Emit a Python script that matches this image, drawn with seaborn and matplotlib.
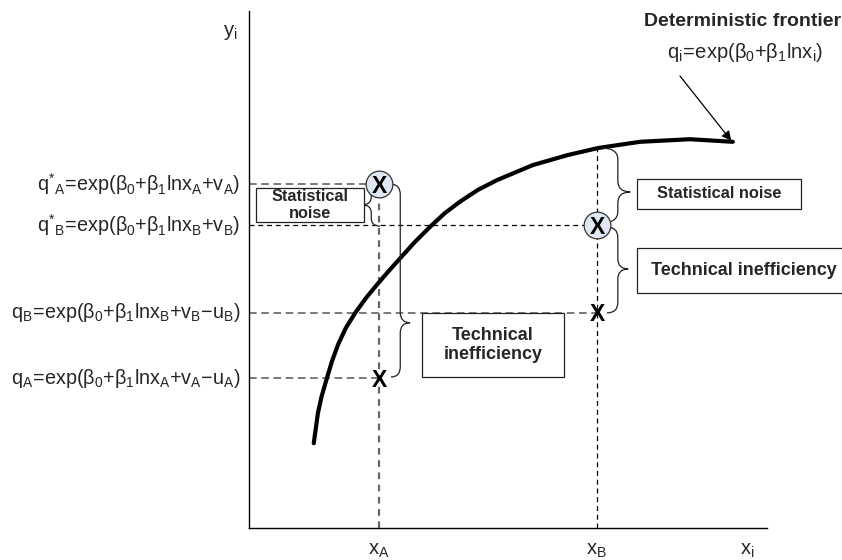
import numpy as np
import pandas as pd
import matplotlib
matplotlib.use("Agg")
import matplotlib.pyplot as plt
import seaborn as sns
from matplotlib.path import Path
from matplotlib.patches import PathPatch, Rectangle

# ---------------- data (arbitrary units, axes 0..10) ----------------
x_A = 2.51
x_B = 6.72
q_star_A = 6.65
q_star_B = 5.86
q_B = 4.16
q_A = 2.90

frontier_x = [1.25, 1.33, 1.40, 1.51, 1.60, 1.72, 1.87, 2.05, 2.26, 2.49, 2.68,
              2.92, 3.20, 3.49, 3.78, 4.07, 4.42, 4.79, 5.48, 6.14, 6.74, 7.55,
              8.51, 9.34]
frontier_y = [1.64, 2.22, 2.54, 2.92, 3.22, 3.55, 3.87, 4.16, 4.45, 4.73, 4.95,
              5.22, 5.53, 5.82, 6.09, 6.31, 6.54, 6.73, 7.02, 7.21, 7.35, 7.47,
              7.52, 7.47]

y_labels = [r"$\mathregular{q^{*}{}_{A}\!=\!exp(β_0{+}β_1lnx_A{+}v_A)}$",
            r"$\mathregular{q^{*}{}_{B}\!=\!exp(β_0{+}β_1lnx_B{+}v_B)}$",
            r"$\mathregular{q_B\!=\!exp(β_0{+}β_1lnx_B{+}v_B{-}u_B)}$",
            r"$\mathregular{q_A\!=\!exp(β_0{+}β_1lnx_A{+}v_A{-}u_A)}$"]
y_label_values = [q_star_A, q_star_B, q_B, q_A]
x_tick_labels = [r"$\mathregular{x_A}$", r"$\mathregular{x_B}$", r"$\mathregular{x_i}$"]

# ---------------- style ----------------
sns.set_theme(style="white")
plt.rcParams["font.family"] = ["Liberation Sans", "DejaVu Sans"]
plt.rcParams["mathtext.fontset"] = "custom"
plt.rcParams["mathtext.rm"] = "Liberation Sans"
plt.rcParams["mathtext.it"] = "Liberation Sans:italic"
plt.rcParams["mathtext.bf"] = "Liberation Sans:bold"

W, H = 842, 560
fig = plt.figure(figsize=(W / 100, H / 100), dpi=100)
fig.patch.set_facecolor("white")
ax = fig.add_axes([249 / W, 32 / H, 518 / W, 517 / H])
ax.set_xlim(0, 10)
ax.set_ylim(0, 10)
ax.set_xticks([])
ax.set_yticks([])
for s in ["top", "right"]:
    ax.spines[s].set_visible(False)
for s in ["left", "bottom"]:
    ax.spines[s].set_color("black")
    ax.spines[s].set_linewidth(1.0)
ax.set_facecolor("white")


def fx(px):
    return px / W


def fy(py):
    return 1 - py / H


dash_gray = dict(color="#555555", lw=1.1, ls=(0, (5, 3)), zorder=1)
dash_black = dict(color="black", lw=0.9, ls=(0, (4, 3)), zorder=1)

# guide lines
ax.plot([x_A, x_A], [0, q_star_A], color="#666666", lw=1.6, ls=(0, (3, 2.5)), zorder=1)
ax.plot([x_B, x_B], [0, frontier_y[20]], **dash_black)
ax.plot([0, x_A], [q_star_A, q_star_A], **dash_gray)
ax.plot([0, x_B], [q_star_B, q_star_B], **dash_black)
ax.plot([0, x_B], [q_B, q_B], **dash_gray)
ax.plot([0, x_A], [q_A, q_A], **dash_gray)

# frontier
df = pd.DataFrame({"x": frontier_x, "y": frontier_y})
sns.lineplot(data=df, x="x", y="y", ax=ax, color="black", lw=3.0, sort=False,
             estimator=None, zorder=3)
ax.lines[-1].set_solid_joinstyle("round")
ax.set_xlabel("")
ax.set_ylabel("")


# braces
def brace(x_end, x_spine, x_tip, y_top, y_bot, y_tip, r=0.18):
    verts = [(x_end, y_top), (x_spine, y_top), (x_spine, y_top - r),
             (x_spine, y_tip + r),
             (x_spine, y_tip), (x_tip, y_tip),
             (x_spine, y_tip), (x_spine, y_tip - r),
             (x_spine, y_bot + r),
             (x_spine, y_bot), (x_end, y_bot)]
    codes = [Path.MOVETO, Path.CURVE3, Path.CURVE3, Path.LINETO,
             Path.CURVE3, Path.CURVE3, Path.CURVE3, Path.CURVE3,
             Path.LINETO, Path.CURVE3, Path.CURVE3]
    ax.add_patch(PathPatch(Path(verts, codes), fill=False, color="#222222",
                           lw=0.9, zorder=4))


brace(2.53, 2.36, 2.18, 6.62, 5.84, 6.25, r=0.15)
brace(2.74, 2.92, 3.11, q_star_A, 2.92, 3.97, r=0.2)
brace(6.80, 7.12, 7.36, 7.35, 5.90, 6.50, r=0.22)
brace(6.91, 7.12, 7.32, 5.82, q_B, 5.01, r=0.2)

# points: circled X and plain X
circ = pd.DataFrame({"x": [x_A, x_B], "y": [q_star_A, q_star_B]})
sns.scatterplot(data=circ, x="x", y="y", ax=ax, s=370, color="#dfe7f5",
                edgecolor="#333333", linewidth=0.9, zorder=5, legend=False)
ax.set_xlabel("")
ax.set_ylabel("")
for (xx, yy) in [(x_A, q_star_A), (x_B, q_star_B), (x_B, q_B), (x_A, q_A)]:
    ax.text(xx, yy - 0.04, "X", ha="center", va="center", fontsize=16.5,
            fontweight="bold", color="black", zorder=6)


# boxes with text
def box(x0, y0, x1, y1, lines, size, cx=None):
    fig.add_artist(Rectangle((fx(x0), fy(y1)), fx(x1) - fx(x0), fy(y0) - fy(y1),
                             transform=fig.transFigure, facecolor="white",
                             edgecolor="#222222", lw=0.9, zorder=4))
    fig.text(fx((x0 + x1) / 2 if cx is None else cx), fy((y0 + y1) / 2), lines,
             ha="center", va="center", fontsize=size, fontweight="bold",
             linespacing=1.1, zorder=5)


box(256, 188, 364, 222, "Statistical\nnoise", 11.7)
box(637, 179, 801, 209, "Statistical noise", 11.8)
box(637, 248, 846, 293, "Technical inefficiency", 13, cx=744)
box(422, 313, 564, 377, "Technical\ninefficiency", 13)

# axis labels / tick labels
for lab, val in zip(y_labels, y_label_values):
    ax.text(-0.17, val, lab, ha="right", va="center", fontsize=14.2,
            transform=ax.transData, clip_on=False)
fig.text(fx(238), fy(33), r"$\mathregular{y_i}$", ha="right", va="center", fontsize=14.5)
for lab, px in zip(x_tick_labels, [379, 596, 747]):
    fig.text(fx(px), fy(551), lab, ha="center", va="center", fontsize=14.5)

# frontier annotation
fig.text(fx(743), fy(21), "Deterministic frontier", ha="center", va="center",
         fontsize=14, fontweight="bold")
fig.text(fx(745), fy(53), r"$\mathregular{q_i\!=\!exp(β_0{+}β_1lnx_i)}$", ha="center",
         va="center", fontsize=14.5)
ax.annotate("", xy=(frontier_x[-1] - 0.03, frontier_y[-1] + 0.02),
            xytext=(fx(680), fy(76)), textcoords="figure fraction",
            arrowprops=dict(arrowstyle="-|>", color="black", lw=0.9,
                            mutation_scale=14, shrinkA=0, shrinkB=0),
            annotation_clip=False)

fig.savefig("out.png", dpi=100, facecolor="white")
